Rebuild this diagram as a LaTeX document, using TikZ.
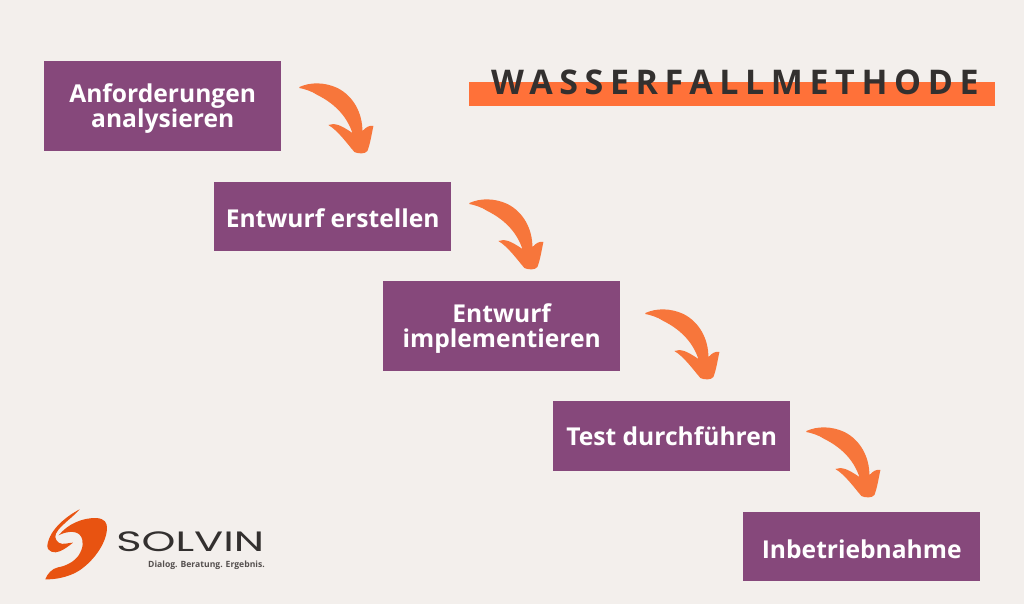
\documentclass[tikz,border=0pt]{standalone}
\usepackage{fontspec}
\setmainfont{Open Sans}[BoldFont={Open Sans Bold}]
\newfontfamily\titlefont{Open Sans Bold}[LetterSpace=19.4]
\newfontfamily\logofont{Poppins}
\newfontfamily\tagfont{Open Sans Bold}
\definecolor{bgc}{HTML}{F3EFEC}
\definecolor{plum}{HTML}{86487B}
\definecolor{arrowc}{HTML}{F7763B}
\definecolor{barc}{HTML}{FF7139}
\definecolor{inkc}{HTML}{33302F}
\definecolor{tagc}{HTML}{55504F}
\definecolor{logoc}{HTML}{E85311}
\tikzset{
  stepbox/.style={fill=plum,draw=none,text=white,minimum width=237pt,anchor=north west,inner sep=0pt,
     font=\fontsize{24.6}{27}\selectfont\bfseries,align=center},
  swoosh/.pic={\fill[arrowc,shift={(-299,-87)}]
     (299,87) .. controls (310,82) and (324,82) .. (337,88)
     .. controls (353,96) and (362,113) .. (362,131)
     .. controls (366,127) and (369,125) .. (373,126)
     .. controls (371,135) and (370,143) .. (367,151)
     .. controls (365,154) and (358,154) .. (354,152)
     .. controls (347,144) and (338,131) .. (328,125)
     .. controls (334,123) and (339,124) .. (352,133)
     .. controls (346,115) and (333,103) .. (317,95)
     .. controls (311,91) and (304,89) .. (299,88) -- cycle;}
}
\begin{document}
\begin{tikzpicture}[x=1pt,y=-1pt]
\useasboundingbox (0,0) rectangle (1024,604);
\fill[bgc] (0,0) rectangle (1024,604);
\node[stepbox,minimum height=90pt] (s1) at (44,61) {\rule{0pt}{23.5pt}Anforderungen\\[-2pt]analysieren};
\node[stepbox,minimum height=69pt] (s2) at (214,182) {\rule{0pt}{21pt}Entwurf erstellen};
\node[stepbox,minimum height=90pt] (s3) at (383,281) {\rule{0pt}{23pt}Entwurf\\[-2pt]implementieren};
\node[stepbox,minimum height=70pt] (s4) at (553,401) {Test durchführen};
\node[stepbox,minimum height=69pt] (s5) at (743,512) {\rule{0pt}{23pt}Inbetriebnahme};
\coordinate (a1) at ([shift={(18,26)}]s1.north east);
\coordinate (a2) at ([shift={(18,21)}]s2.north east);
\coordinate (a3) at ([shift={(25,32)}]s3.north east);
\coordinate (a4) at ([shift={(16,30)}]s4.north east);
\pic at (a1) {swoosh};
\pic at (a2) {swoosh};
\pic at (a3) {swoosh};
\pic at (a4) {swoosh};
\fill[barc] (469,82) rectangle (995,106);
\node[text=inkc,font=\fontsize{34}{36}\selectfont\titlefont,anchor=west,inner sep=0pt] (title) at (491,82) {WASSERFALLMETHODE};
\begin{scope}[shift={(38,502)},x=0.3333pt,y=-0.3333pt]
\fill[logoc] (125,22) .. controls (90,40) and (35,80) .. (28,130)
  .. controls (27,150) and (50,155) .. (65,148) .. controls (80,142) and (95,130) .. (105,122)
  .. controls (90,122) and (75,130) .. (62,122) .. controls (50,112) and (48,100) .. (60,85)
  .. controls (75,65) and (105,45) .. (125,22) -- cycle;
\fill[logoc] (62,100) .. controls (90,65) and (135,47) .. (175,48)
  .. controls (200,50) and (208,62) .. (207,80)
  .. controls (205,125) and (165,180) .. (120,208)
  .. controls (90,226) and (50,233) .. (22,232)
  .. controls (28,215) and (42,200) .. (60,196)
  .. controls (85,192) and (110,178) .. (122,160)
  .. controls (135,140) and (140,115) .. (125,98)
  .. controls (110,84) and (80,90) .. (62,100) -- cycle;
\end{scope}
\node[text=inkc,font=\fontsize{28}{28}\selectfont\logofont,anchor=base west,inner sep=0pt,xscale=1.54] (logo) at (116,551) {SOLVIN};
\node[text=tagc,font=\fontsize{8.6}{9}\selectfont\tagfont,anchor=west,inner sep=0pt] (tag) at (148,565) {Dialog. Beratung. Ergebnis.};
\end{tikzpicture}
\end{document}
